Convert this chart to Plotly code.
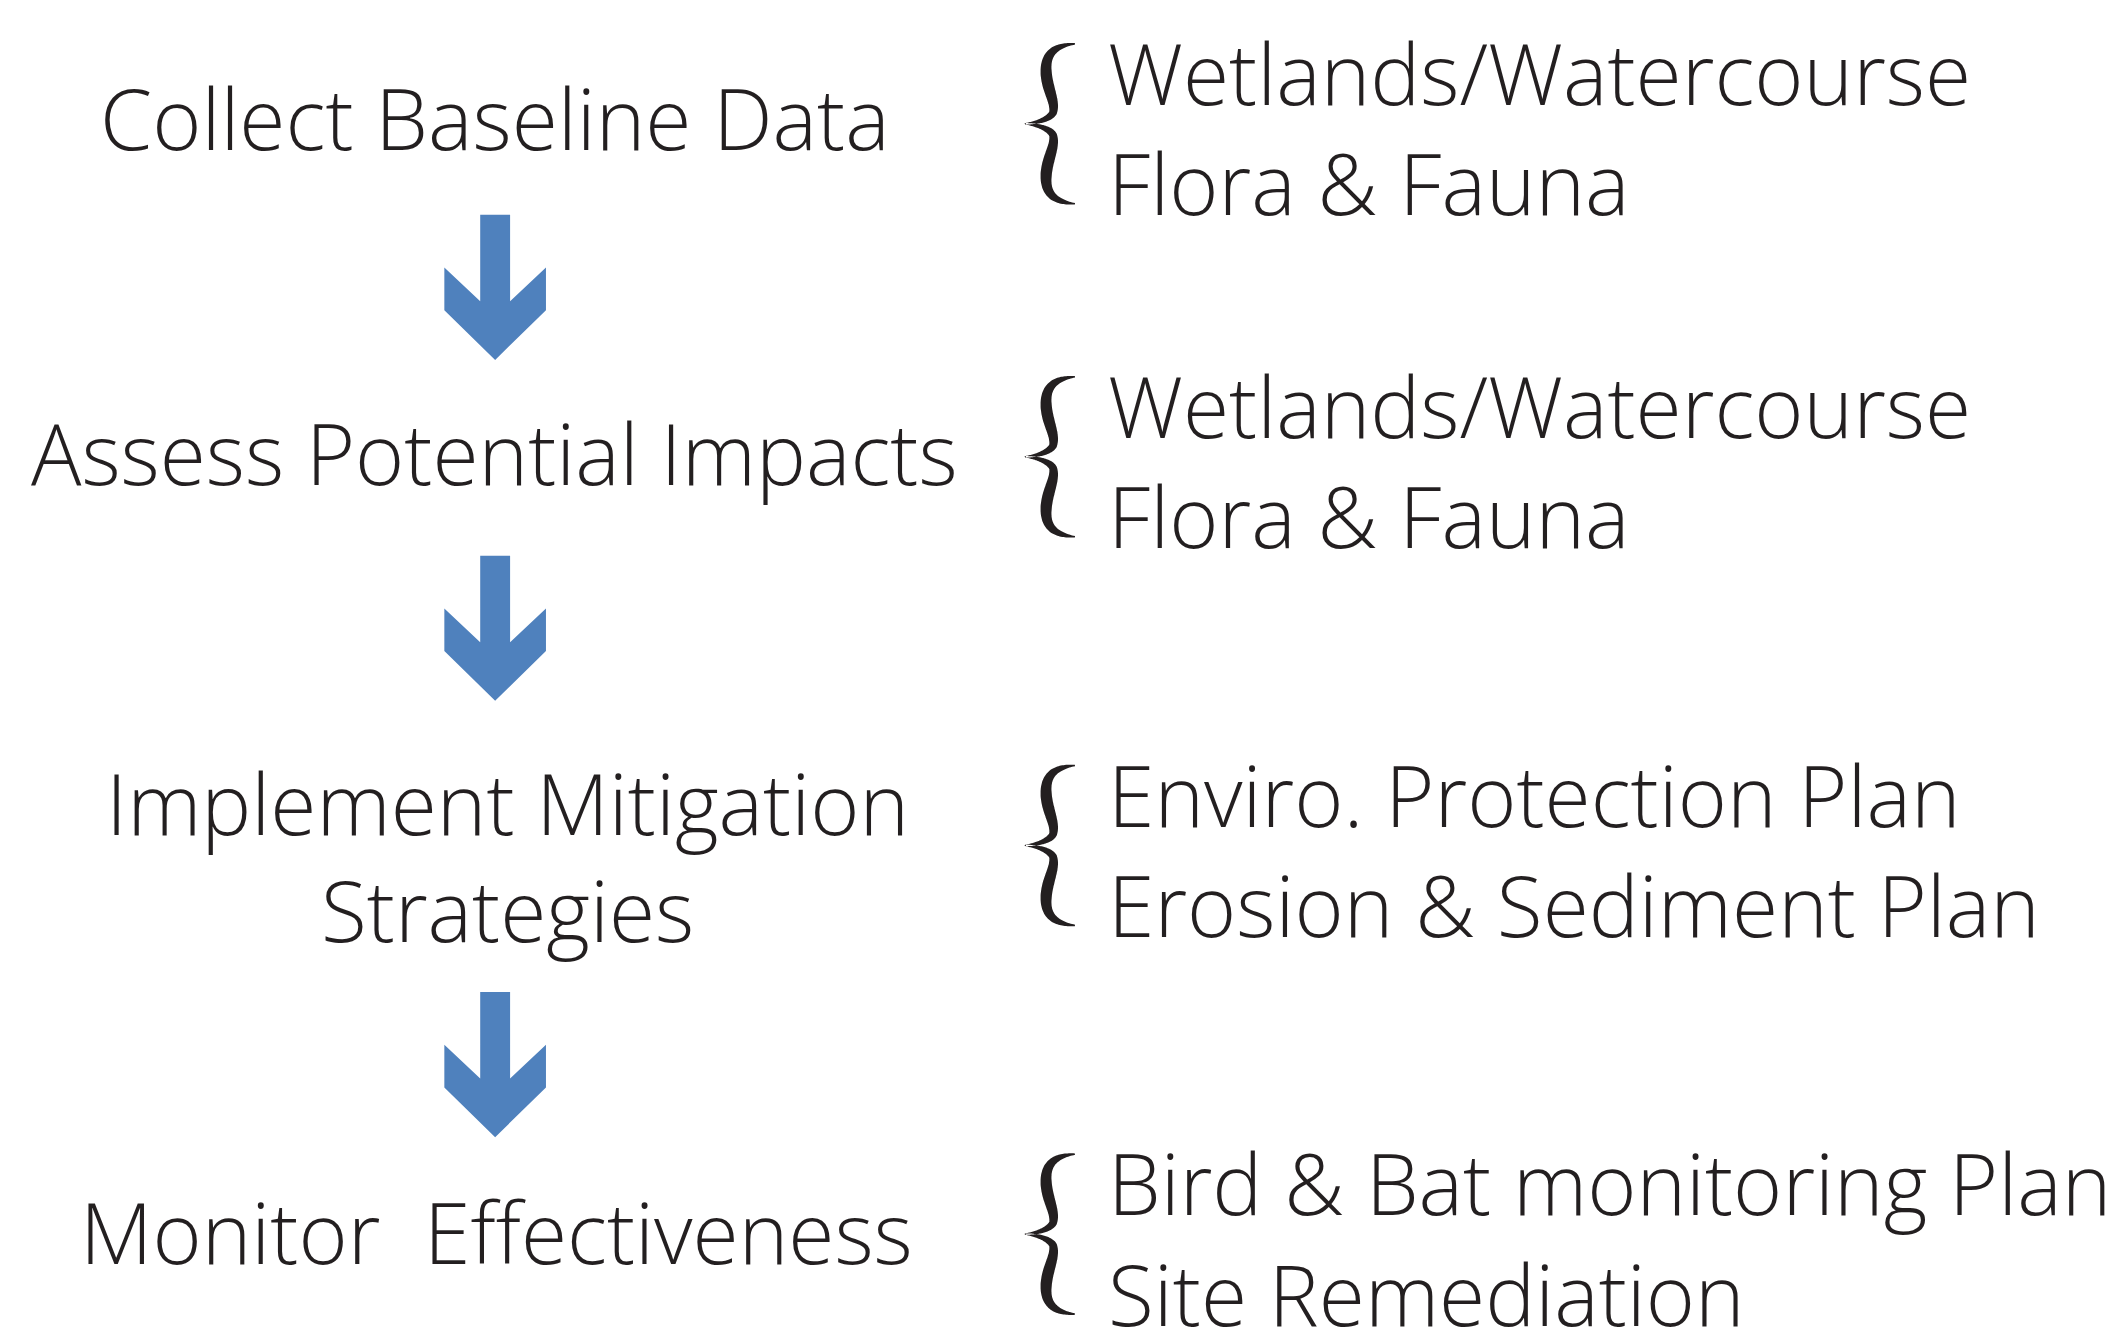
import numpy as np
import plotly.graph_objects as go

# ---- content ----
steps = ["Collect Baseline Data", "Assess Potential Impacts",
         "Implement Mitigation", "Strategies", "Monitor  Effectiveness"]
step_cy = [118, 455, 807, 915, 1239]          # vertical centre (cap middle) of each step line
step_cx = [497, 496, 509, 509, 498]
details = ["Wetlands/Watercourse", "Flora & Fauna",
           "Wetlands/Watercourse", "Flora & Fauna",
           "Enviro. Protection Plan", "Erosion & Sediment Plan",
           "Bird & Bat monitoring Plan", "Site Remediation"]
detail_cy = [73, 184, 408, 519, 799, 910, 1190, 1301]
brace_groups = [(73, 184), (408, 519), (799, 910), (1190, 1301)]
arrow_top = [216, 559, 998]
arrow_cx = 497
detail_x = 1110

W, H = 2123, 1342
OFF = 8                 # page body margin
FONT = "Open Sans"
FS = 84
DY = 0                  # cap-centre correction
TXT = "#231f20"
BLUE = "#4f81bd"

fig = go.Figure()
fig.add_trace(go.Scatter(x=[OFF, W], y=[OFF, H], mode="markers", marker=dict(opacity=0),
                         hoverinfo="skip", showlegend=False))

for s, cx, cy in zip(steps, step_cx, step_cy):
    fig.add_annotation(x=cx, y=cy + DY, xref="x", yref="y", text=s, showarrow=False,
                       xanchor="center", yanchor="middle", align="center",
                       font=dict(family=FONT, size=FS, color=TXT, weight=300))

for d, cy in zip(details, detail_cy):
    fig.add_annotation(x=detail_x, y=cy + DY, xref="x", yref="y", text=d,
                       showarrow=False, xanchor="left", yanchor="middle", align="left",
                       font=dict(family=FONT, size=FS, color=TXT, weight=300))

def arrow_path(cx, y0):
    pts = [(-15, 0), (15, 0), (15, 87), (51, 53), (51, 96), (0, 146),
           (-51, 96), (-51, 53), (-15, 87)]
    return "M " + " L ".join(f"{cx+dx},{y0+dy}" for dx, dy in pts) + " Z"

for y0 in arrow_top:
    fig.add_shape(type="path", path=arrow_path(arrow_cx, y0), xref="x", yref="y",
                  fillcolor=BLUE, line=dict(width=0))

def bez(p0, p1, p2, p3, n=40):
    t = np.linspace(0, 1, n)[:, None]
    return ((1-t)**3)*p0 + 3*((1-t)**2)*t*p1 + 3*(1-t)*t**2*p2 + t**3*p3

def brace_path(x0, top, bottom):
    mid = (top + bottom) / 2
    h = mid - top
    segs = [((50, 0), (30, 0.02), (21, 0.12), (21, 0.32)),
            ((21, 0.32), (21, 0.55), (31, 0.72), (28, 0.86)),
            ((28, 0.86), (24, 0.95), (10, 0.99), (0, 1.0))]
    pts = []
    for s in segs:
        b = bez(*[np.array(p, float) for p in s])
        pts.append(b if not pts else b[1:])
    up = np.vstack(pts)
    up[:, 0] = x0 + up[:, 0]
    up[:, 1] = top + up[:, 1] * h
    low = up[::-1][1:].copy()
    low[:, 1] = 2 * mid - low[:, 1]
    c = np.vstack([up, low])
    seg = np.r_[0, np.cumsum(np.hypot(*np.diff(c, axis=0).T))]
    s = seg / seg[-1]
    u = np.where(s <= 0.5, s / 0.5, (1 - s) / 0.5)
    w = 1.5 + 10.0 * np.sin(np.pi * np.clip(u, 0, 1) ** 0.9) ** 1.2
    d = np.gradient(c, axis=0)
    nrm = np.stack([-d[:, 1], d[:, 0]], axis=1)
    nrm /= np.linalg.norm(nrm, axis=1)[:, None]
    a = c + nrm * (w[:, None] / 2)
    b = c - nrm * (w[:, None] / 2)
    poly = np.vstack([a, b[::-1]])
    return "M " + " L ".join(f"{x:.1f},{y:.1f}" for x, y in poly) + " Z"

for c1, c2 in brace_groups:
    fig.add_shape(type="path", path=brace_path(1029, c1 - 29, c2 + 21), xref="x", yref="y",
                  fillcolor=TXT, line=dict(width=0))

fig.update_xaxes(range=[OFF, W], visible=False, fixedrange=True)
fig.update_yaxes(range=[H, OFF], visible=False, fixedrange=True)
fig.update_layout(width=W - 2 * OFF, height=H - 2 * OFF, margin=dict(l=0, r=0, t=0, b=0),
                  plot_bgcolor="white", paper_bgcolor="white", showlegend=False)
fig.write_html("out.html")
